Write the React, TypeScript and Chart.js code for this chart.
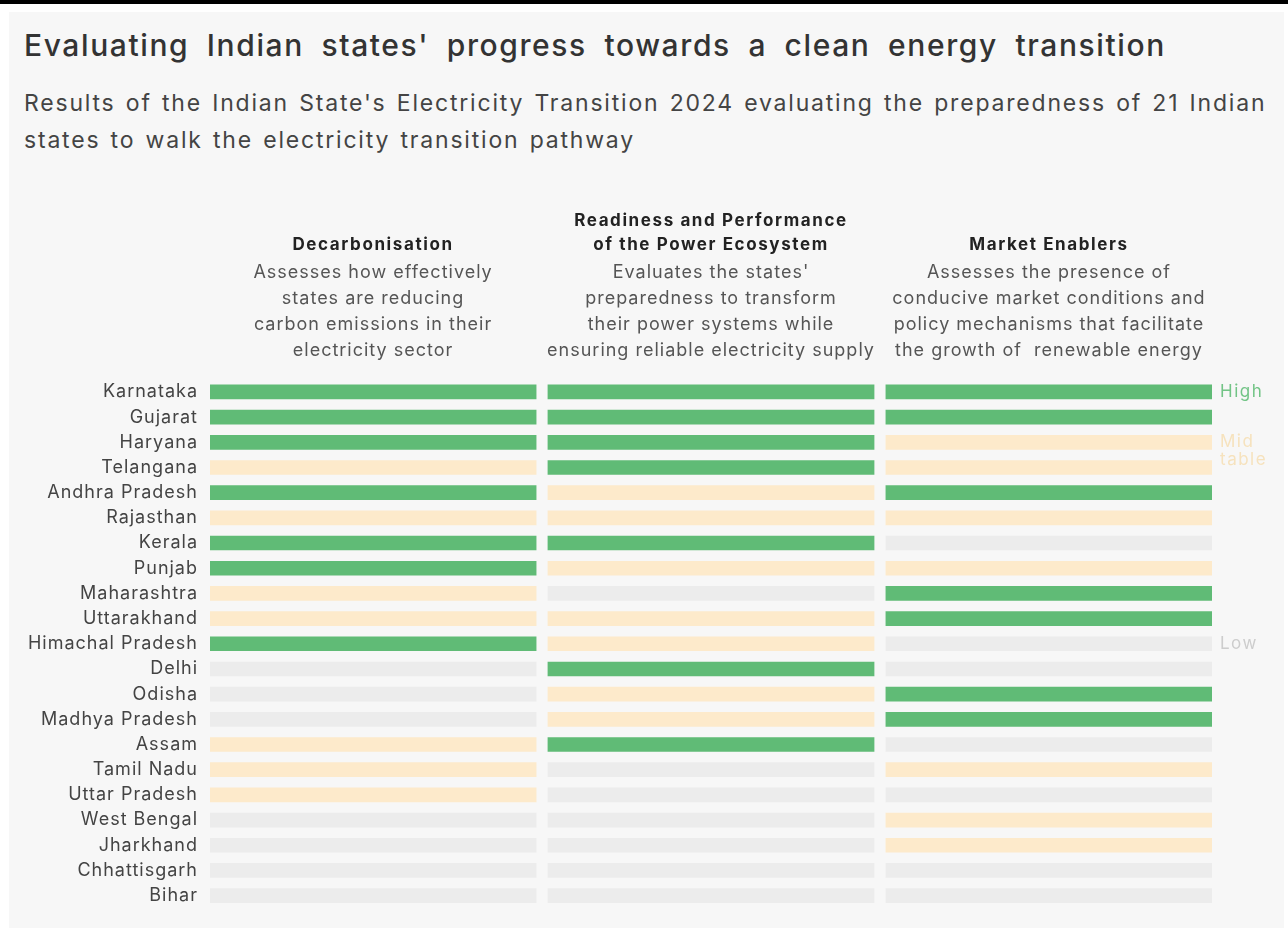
import React, { useEffect, useRef } from "react";
import { Chart, registerables } from "chart.js";

Chart.register(...registerables);

const TITLE = "Evaluating Indian states' progress towards a clean energy transition";
const SUBTITLE_LINES = [
  "Results of the Indian State's Electricity Transition 2024 evaluating the preparedness of 21 Indian",
  "states to walk the electricity transition pathway",
];

const STATES = [
  "Karnataka", "Gujarat", "Haryana", "Telangana", "Andhra Pradesh", "Rajasthan", "Kerala",
  "Punjab", "Maharashtra", "Uttarakhand", "Himachal Pradesh", "Delhi", "Odisha",
  "Madhya Pradesh", "Assam", "Tamil Nadu", "Uttar Pradesh", "West Bengal", "Jharkhand",
  "Chhattisgarh", "Bihar",
];

const DECARBONISATION = [
  "High", "High", "High", "Mid", "High", "Mid", "High", "High", "Mid", "Mid", "High",
  "Low", "Low", "Low", "Mid", "Mid", "Mid", "Low", "Low", "Low", "Low",
];
const READINESS = [
  "High", "High", "High", "High", "Mid", "Mid", "High", "Mid", "Low", "Mid", "Mid",
  "High", "Mid", "Mid", "High", "Low", "Low", "Low", "Low", "Low", "Low",
];
const MARKET_ENABLERS = [
  "High", "High", "Mid", "Mid", "High", "Mid", "Low", "Mid", "High", "High", "Low",
  "Low", "High", "High", "Low", "Mid", "Low", "Mid", "Mid", "Low", "Low",
];

const COLUMN_TITLES = [
  ["Decarbonisation"],
  ["Readiness and Performance", "of the Power Ecosystem"],
  ["Market Enablers"],
];
const COLUMN_NOTES = [
  ["Assesses how effectively", "states are reducing", "carbon emissions in their", "electricity sector"],
  ["Evaluates the states'", "preparedness to transform", "their power systems while", "ensuring reliable electricity supply"],
  ["Assesses the presence of", "conducive market conditions and", "policy mechanisms that facilitate", "the growth of  renewable energy"],
];

const LEVEL_KEYS = ["High", "Mid", "Low"];
const LEVEL_LEGEND_TEXT = [["High"], ["Mid", "table"], ["Low"]];
const LEVEL_LEGEND_ROWS = [0, 2, 10];

const BAR_COLORS: Record<string, string> = { High: "#60bb76", Mid: "#fdeacb", Low: "#ececec" };
const LEGEND_COLORS: Record<string, string> = { High: "#72c486", Mid: "#f6e2bd", Low: "#cdcdcd" };

const FONT = "Inter, 'Noto Sans', sans-serif";
const SPAN = 0.965;

const headerPlugin = {
  id: "columnHeaders",
  beforeDraw(chart: any) {
    (chart.ctx as any).letterSpacing = "1px";
  },
  afterDraw(chart: any) {
    const { ctx, chartArea, scales } = chart;
    const x = scales.x;
    const y = scales.y;
    ctx.save();
    ctx.textAlign = "center";
    ctx.textBaseline = "middle";
    COLUMN_TITLES.forEach((titleLines, i) => {
      const cx = x.getPixelForValue(i + SPAN / 2);
      const notes = COLUMN_NOTES[i];
      const lastNoteY = chartArea.top - 29;
      ctx.font = `400 18px ${FONT}`;
      (ctx as any).letterSpacing = "1px";
      ctx.fillStyle = "#555555";
      notes.forEach((line, j) => {
        ctx.fillText(line, cx, lastNoteY - (notes.length - 1 - j) * 26);
      });
      const firstNoteY = lastNoteY - (notes.length - 1) * 26;
      ctx.font = `700 17px ${FONT}`;
      (ctx as any).letterSpacing = "1.6px";
      ctx.fillStyle = "#222222";
      titleLines.forEach((line, j) => {
        ctx.fillText(line, cx, firstNoteY - 27 - (titleLines.length - 1 - j) * 24);
      });
    });
    ctx.textAlign = "left";
    ctx.font = `400 17px ${FONT}`;
    (ctx as any).letterSpacing = "1.5px";
    LEVEL_KEYS.forEach((key, k) => {
      ctx.fillStyle = LEGEND_COLORS[key];
      const baseY = y.getPixelForValue(LEVEL_LEGEND_ROWS[k]);
      LEVEL_LEGEND_TEXT[k].forEach((line, j) => {
        ctx.fillText(line, chartArea.right + 8, baseY + j * 18);
      });
    });
    ctx.restore();
  },
};

export default function App() {
  const canvasRef = useRef<HTMLCanvasElement | null>(null);

  useEffect(() => {
    if (!canvasRef.current) return;
    const columns = [DECARBONISATION, READINESS, MARKET_ENABLERS];
    const chart = new Chart(canvasRef.current, {
      type: "bar",
      data: {
        labels: STATES,
        datasets: columns.map((levels, i) => ({
          label: COLUMN_TITLES[i].join(" "),
          data: levels.map(() => [i, i + SPAN]) as any,
          backgroundColor: levels.map((l) => BAR_COLORS[l]),
          borderWidth: 0,
          barThickness: 14,
          grouped: false,
        })),
      },
      options: {
        responsive: false,
        animation: false,
        indexAxis: "y",
        layout: { padding: { top: 379.35, bottom: 20.35, right: 76, left: 0 } },
        scales: {
          x: { type: "linear", min: 0, max: 2 + SPAN, display: false },
          y: {
            type: "category",
            grid: { display: false, drawTicks: false },
            border: { display: false },
            ticks: {
              autoSkip: false,
              padding: 12,
              color: "#444444",
              font: { family: FONT, size: 18 },
            },
            afterFit: (scale: any) => {
              scale.width = 210;
            },
          },
        },
        plugins: {
          legend: { display: false },
          tooltip: { enabled: false },
          title: { display: false },
        },
      } as any,
      plugins: [headerPlugin],
    });
    return () => chart.destroy();
  }, []);

  return (
    <div style={{ position: "absolute", left: 0, top: 0, width: 1288, height: 931, overflow: "hidden", background: "#ffffff", fontFamily: FONT }}>
      <div style={{ position: "absolute", left: 0, top: 0, width: 1288, height: 4, background: "#000000" }} />
      <div style={{ position: "absolute", left: 9, top: 12, width: 1275, height: 916, background: "#f7f7f7" }} />
      <div style={{ position: "absolute", left: 24, top: 26, lineHeight: "38px", fontSize: 30, fontWeight: 500, letterSpacing: "1.6px", wordSpacing: "8px", color: "#333333", whiteSpace: "nowrap" }}>
        {TITLE}
      </div>
      {SUBTITLE_LINES.map((line, i) => (
        <div key={i} style={{ position: "absolute", left: 24, top: 85 + i * 37, lineHeight: "36px", fontSize: 23, letterSpacing: "1.8px", wordSpacing: "2px", color: "#444444", whiteSpace: "nowrap" }}>
          {line}
        </div>
      ))}
      <canvas ref={canvasRef} width={1288} height={931} style={{ position: "absolute", left: 0, top: 0, width: 1288, height: 931 }} />
    </div>
  );
}
